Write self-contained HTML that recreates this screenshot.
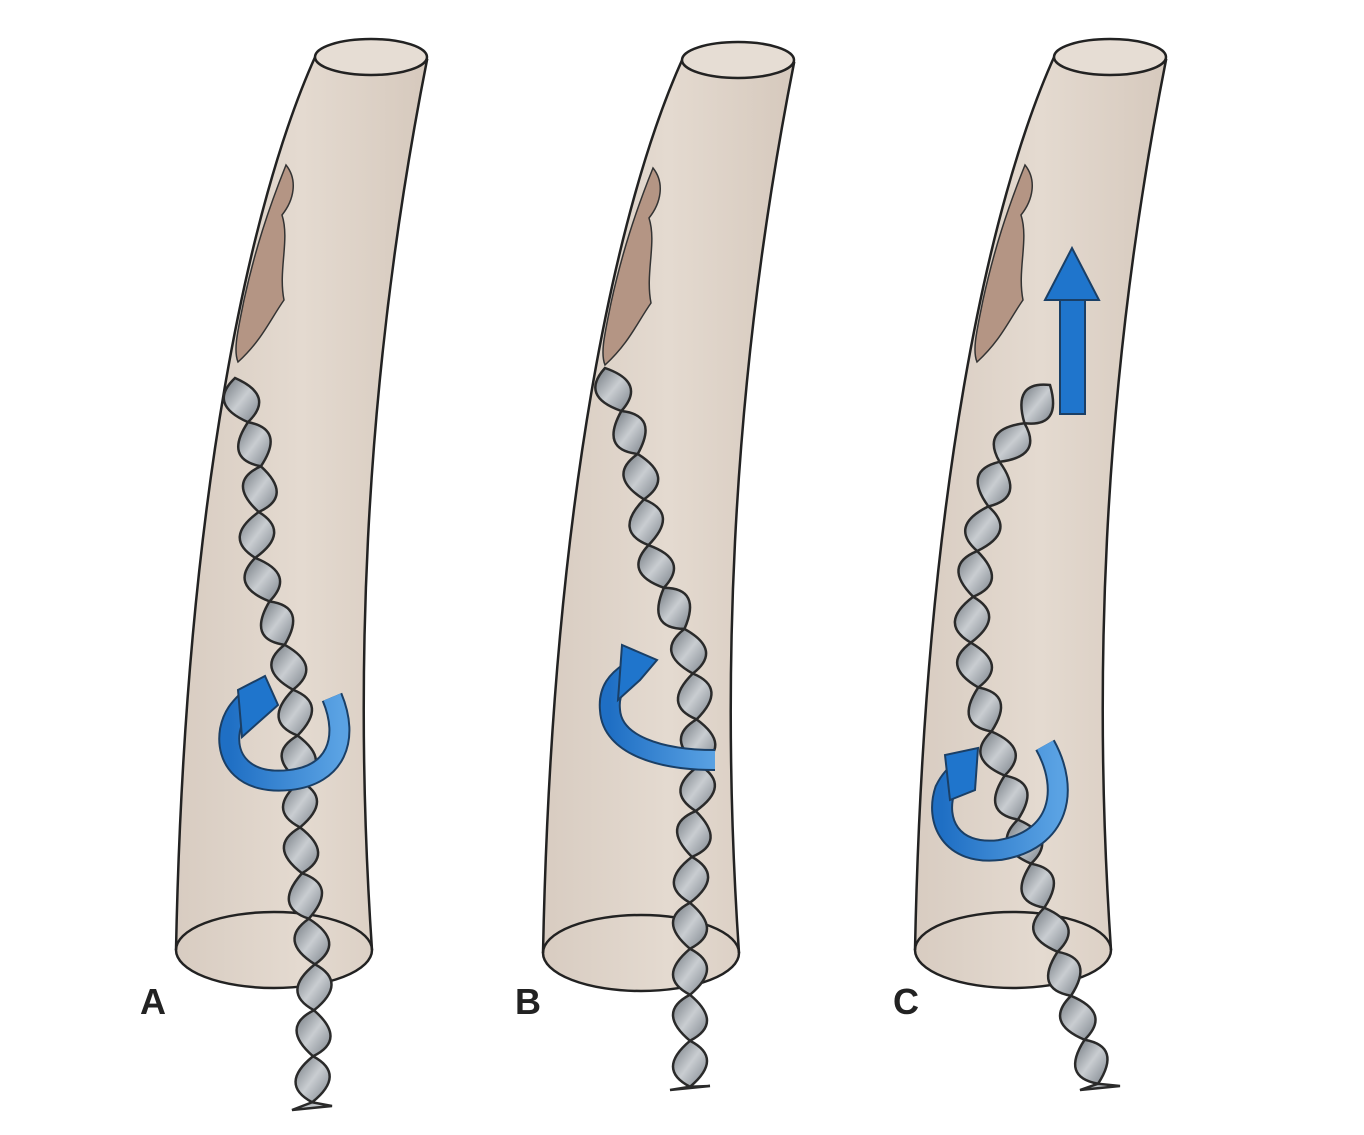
<!DOCTYPE html>
<html><head><meta charset="utf-8"><style>
html,body{margin:0;padding:0;background:#fff;width:1364px;height:1135px;overflow:hidden}
svg{display:block}
text{font-family:"Liberation Sans",sans-serif;font-weight:bold;font-size:36px;fill:#222}
</style></head><body>
<svg id="s" width="1364" height="1135" viewBox="0 0 1364 1135" xmlns="http://www.w3.org/2000/svg">
<defs>
<linearGradient id="tube" x1="0" x2="1" y1="0" y2="0">
<stop offset="0" stop-color="#d8ccc1"/><stop offset="0.5" stop-color="#e4dad0"/><stop offset="1" stop-color="#d6c9bd"/>
</linearGradient>
<linearGradient id="wire" x1="0" x2="1" y1="0" y2="1">
<stop offset="0" stop-color="#6f767d"/><stop offset="0.5" stop-color="#c9cdd1"/><stop offset="1" stop-color="#7b828a"/>
</linearGradient>
<linearGradient id="blue" x1="0" x2="1" y1="0" y2="0">
<stop offset="0" stop-color="#1f6fc4"/><stop offset="1" stop-color="#5aa2e3"/>
</linearGradient>
</defs>
<g id="tubes"></g>
<g id="wires"></g>
<g id="arrows"></g>
<text x="140" y="1014">A</text>
<text x="515" y="1014">B</text>
<text x="893" y="1014">C</text>
</svg>
<script>
var NS="http://www.w3.org/2000/svg";
function el(p,tag,a){var e=document.createElementNS(NS,tag);for(var k in a)e.setAttribute(k,a[k]);p.appendChild(e);return e;}
var T=document.getElementById('tubes'),W=document.getElementById('wires'),A=document.getElementById('arrows');
function tube(dx,dy){
 var g=el(T,'g',{transform:'translate('+dx+','+dy+')'});
 el(g,'path',{d:'M316,55 C250,200 185,500 176,950 A98,38 0 0 0 372,950 C355,700 360,400 427,60 Z',fill:'url(#tube)',stroke:'#222','stroke-width':2.5});
 el(g,'ellipse',{cx:371,cy:57,rx:56,ry:18,fill:'#e6ddd4',stroke:'#222','stroke-width':2.5});
 el(g,'path',{d:'M176,950 A98,38 0 0 1 372,950',fill:'none',stroke:'#222','stroke-width':2.5});
 el(g,'path',{d:'M286,165 C298,180 294,200 282,215 C290,240 278,270 284,300 C270,320 262,340 238,362 C233,350 238,330 244,300 C255,250 268,210 286,165 Z',fill:'#b49584',stroke:'#333','stroke-width':1.5});
}
tube(0,0);tube(367,3);tube(739,0);
function chain(pts,w){
 var L=[],tot=0;for(var i=1;i<pts.length;i++){var d=Math.hypot(pts[i][0]-pts[i-1][0],pts[i][1]-pts[i-1][1]);L.push(d);tot+=d;}
 function at(s){for(var i=0;i<L.length;i++){if(s<=L[i]||i==L.length-1){var t=Math.min(1,s/L[i]);return[pts[i][0]+(pts[i+1][0]-pts[i][0])*t,pts[i][1]+(pts[i+1][1]-pts[i][1])*t];}s-=L[i];}}
 var step=46,n=Math.floor(tot/step);
 for(var k=0;k<n;k++){
  var a=at(k*step),b=at((k+1)*step);
  var mx=(a[0]+b[0])/2,my=(a[1]+b[1])/2,dx=b[0]-a[0],dy=b[1]-a[1],l=Math.hypot(dx,dy),px=-dy/l*w,py=dx/l*w;
  var s=(k%2?1:-1)*0.12;
  var c1=[mx+px+dx*s,my+py+dy*s],c2=[mx-px-dx*s,my-py-dy*s];
  el(W,'path',{d:'M'+a[0]+','+a[1]+' Q'+c1[0]+','+c1[1]+' '+b[0]+','+b[1]+' Q'+c2[0]+','+c2[1]+' '+a[0]+','+a[1]+'Z',fill:'url(#wire)',stroke:'#2a2a2a','stroke-width':2.5});
 }
 var e=at(n*step);var p=pts[pts.length-1];
 el(W,'path',{d:'M'+e[0]+','+e[1]+' L'+(p[0]-20)+','+p[1]+' L'+(p[0]+20)+','+(p[1]-4)+'Z',fill:'url(#wire)',stroke:'#2a2a2a','stroke-width':2.5});
}
chain([[235,378],[262,470],[255,560],[290,660],[300,760],[300,860],[315,960],[312,1110]],34);
chain([[605,368],[640,460],[650,560],[690,640],[700,760],[690,880],[690,1090]],34);
chain([[1050,385],[1000,460],[975,560],[970,660],[1000,760],[1030,860],[1060,960],[1100,1090]],34);
function ar(d,head){
 el(A,'path',{d:d,fill:'none',stroke:'#1a3f66','stroke-width':22,'stroke-linecap':'butt'});
 el(A,'path',{d:d,fill:'none',stroke:'url(#blue)','stroke-width':18,'stroke-linecap':'butt'});
 el(A,'polygon',{points:head,fill:'#1f75cc',stroke:'#1a3f66','stroke-width':2});
}
ar('M332,697 C350,740 335,775 290,780 C245,785 225,760 230,730 C233,715 240,708 248,700','242,737 238,690 265,676 278,705');
ar('M715,760 C660,760 612,745 610,710 C608,690 618,680 630,672','618,700 622,645 657,660 640,680');
ar('M1045,745 C1070,790 1060,840 1000,850 C950,856 935,820 945,790 C950,780 955,775 962,770','950,800 945,755 978,748 975,790');
el(A,'rect',{x:1060,y:298,width:25,height:116,fill:'#1f75cc',stroke:'#1a3f66','stroke-width':2});
el(A,'polygon',{points:'1045,300 1072,248 1099,300',fill:'#1f75cc',stroke:'#1a3f66','stroke-width':2});
</script>
</body></html>
